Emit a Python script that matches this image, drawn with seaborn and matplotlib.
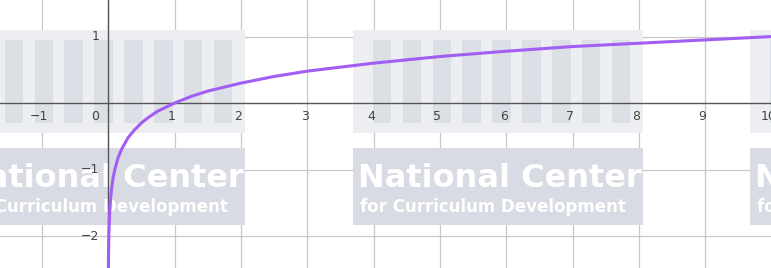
import numpy as np
import pandas as pd
import matplotlib.pyplot as plt
import seaborn as sns
from matplotlib.patches import Rectangle

# points (y = log x, base 10)
x_vals = [0.003, 0.005, 0.01, 0.02, 0.03, 0.05, 0.075, 0.1, 0.15, 0.2, 0.3, 0.4,
          0.5, 0.6, 0.75, 1, 1.25, 1.5, 2, 2.5, 3, 3.5, 4, 5, 6, 7, 8, 9, 10]
y_vals = [-2.52, -2.3, -2.0, -1.7, -1.52, -1.3, -1.12, -1.0, -0.82, -0.7, -0.52, -0.4,
          -0.3, -0.22, -0.12, 0.0, 0.1, 0.18, 0.3, 0.4, 0.48, 0.54, 0.6, 0.7, 0.78,
          0.85, 0.9, 0.95, 1.0]

x_ticks = [-1, 0, 1, 2, 3, 4, 5, 6, 7, 8, 9, 10]
y_ticks = [-2, -1, 1]

df = pd.DataFrame({"x": x_vals, "y": y_vals})

sns.set_style("white")
fig = plt.figure(figsize=(7.71, 2.68), dpi=100)
ax = fig.add_axes([0, 0, 1, 1])

xmin, xmax = -1.63, 9.99
ymin, ymax = -2.48, 1.55
ax.set_xlim(xmin, xmax)
ax.set_ylim(ymin, ymax)

# grid
for xv in x_ticks:
    ax.axvline(xv, color="#c8c8c8", lw=0.9, zorder=0)
for yv in y_ticks:
    ax.axhline(yv, color="#c8c8c8", lw=0.9, zorder=0)

# watermark blocks
def watermark(x0):
    w = 4.37
    ax.add_patch(Rectangle((x0, -0.45), w, 1.55, color="#eceef2", zorder=1, lw=0))
    for i in range(9):
        ax.add_patch(Rectangle((x0 + 0.3 + i * 0.45, -0.3), 0.28, 1.25,
                               color="#dcdfe6", zorder=1, lw=0))
    ax.add_patch(Rectangle((x0, -1.83), w, 1.15, color="#d8dbe3", zorder=1, lw=0))
    ax.text(x0 + 0.07, -1.14, "National Center", color="white", fontsize=23,
            fontweight="bold", va="center", ha="left", zorder=2)
    ax.text(x0 + 0.1, -1.56, "for Curriculum Development", color="white", fontsize=12,
            fontweight="bold", va="center", ha="left", zorder=2)

watermark(-2.31)
watermark(3.69)
watermark(9.68)

# axes
ax.axhline(0, color="#555555", lw=1.0, zorder=3)
ax.axvline(0, color="#555555", lw=1.0, zorder=3)

for xv in x_ticks:
    if xv == 0:
        ax.text(-0.2, -0.1, "0", ha="center", va="top", fontsize=9, color="#444444", zorder=4)
    else:
        ax.text(xv - 0.04, -0.1, str(xv).replace("-", "\u2212"), ha="center", va="top",
                fontsize=9, color="#444444", zorder=4)
for yv in y_ticks:
    ax.text(-0.13, yv, str(yv).replace("-", "\u2212"), ha="right", va="center",
            fontsize=9, color="#444444", zorder=4)

sns.lineplot(data=df, x="x", y="y", sort=False, color="#a25df2", lw=2.2, ax=ax, zorder=5)

ax.set_xlabel("")
ax.set_ylabel("")
ax.set_xticks([])
ax.set_yticks([])
for s in ax.spines.values():
    s.set_visible(False)

fig.savefig("out.png", dpi=100)
